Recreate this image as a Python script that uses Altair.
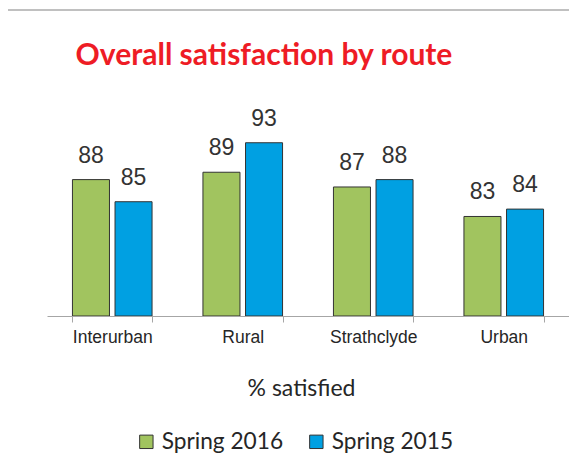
import altair as alt
import pandas as pd

routes = ["Interurban", "Rural", "Strathclyde", "Urban"]
series = ["Spring 2016", "Spring 2015"]
spring_2016 = [88, 89, 87, 83]
spring_2015 = [85, 93, 88, 84]
colors = ["#A1C45F", "#00A0E2"]

rows = []
for i, r in enumerate(routes):
    rows.append({"route": r, "period": series[0], "value": spring_2016[i]})
    rows.append({"route": r, "period": series[1], "value": spring_2015[i]})
df = pd.DataFrame(rows)

W, H = 522, 188
ymin, ymax = 69.5, 95

x_enc = alt.X("route:N", sort=routes,
              scale=alt.Scale(paddingInner=0.39, paddingOuter=0.195),
              axis=alt.Axis(title="% satisfied", labelAngle=0, tickBand="extent",
                            domainColor="#A6A6A6", tickColor="#A6A6A6", tickSize=6,
                            labelFont="Liberation Sans", labelFontSize=17.5,
                            labelColor="#262626", labelPadding=6,
                            titleFont="Lato", titleFontSize=23, titleFontWeight="normal",
                            titleColor="#262626", titleX=254, titleY=79,
                            titleBaseline="alphabetic", titleAlign="center"))
xo = alt.XOffset("period:N", sort=series,
                 scale=alt.Scale(paddingInner=0.13, paddingOuter=0))
y_enc = alt.Y("value:Q", scale=alt.Scale(domain=[ymin, ymax], zero=False, nice=False),
              axis=None)

bars = alt.Chart(df).mark_bar(stroke="#333333", strokeWidth=1, clip=True).encode(
    x=x_enc, xOffset=xo, y=y_enc, y2=alt.datum(ymin),
    color=alt.Color("period:N", sort=series,
                    scale=alt.Scale(domain=series, range=colors),
                    legend=alt.Legend(title=None, orient="none", direction="horizontal",
                                      legendX=88, legendY=302, symbolType="square",
                                      symbolSize=180, symbolStrokeColor="#333333",
                                      symbolStrokeWidth=1, labelFont="Lato",
                                      labelFontSize=22.7, labelColor="#262626",
                                      labelOffset=4, columnPadding=21)),
)

labels = alt.Chart(df).mark_text(font="Liberation Sans", fontSize=23, color="#333333",
                                 dy=-17, baseline="alphabetic").encode(
    x=alt.X("route:N", sort=routes), xOffset=alt.XOffset("period:N", sort=series),
    y="value:Q", text=alt.Text("value:Q", format=".0f"),
)

frame_top = alt.Chart(df).mark_rule(color="#C0C0C0", strokeWidth=2).encode(
    x=alt.value(-44), x2=alt.value(W + 20), y=alt.value(-118))
frame_left = alt.Chart(df).mark_rule(color="#C0C0C0", strokeWidth=2).encode(
    x=alt.value(-44), y=alt.value(-118), y2=alt.value(H + 160))

chart = alt.layer(frame_top, frame_left, bars, labels).properties(
    width=W, height=H,
    autosize=alt.AutoSizeParams(type="none"),
    padding={"left": 39, "top": 120, "right": 0, "bottom": 140},
    title=alt.Title("Overall satisfaction by route", font="Lato", fontSize=30,
                    fontWeight="bold", color="#EE1C25", anchor="middle", dx=-44,
                    offset=-62),
).configure_view(stroke=None)

chart.save("out.html", embed_options={"renderer": "svg", "actions": False})
